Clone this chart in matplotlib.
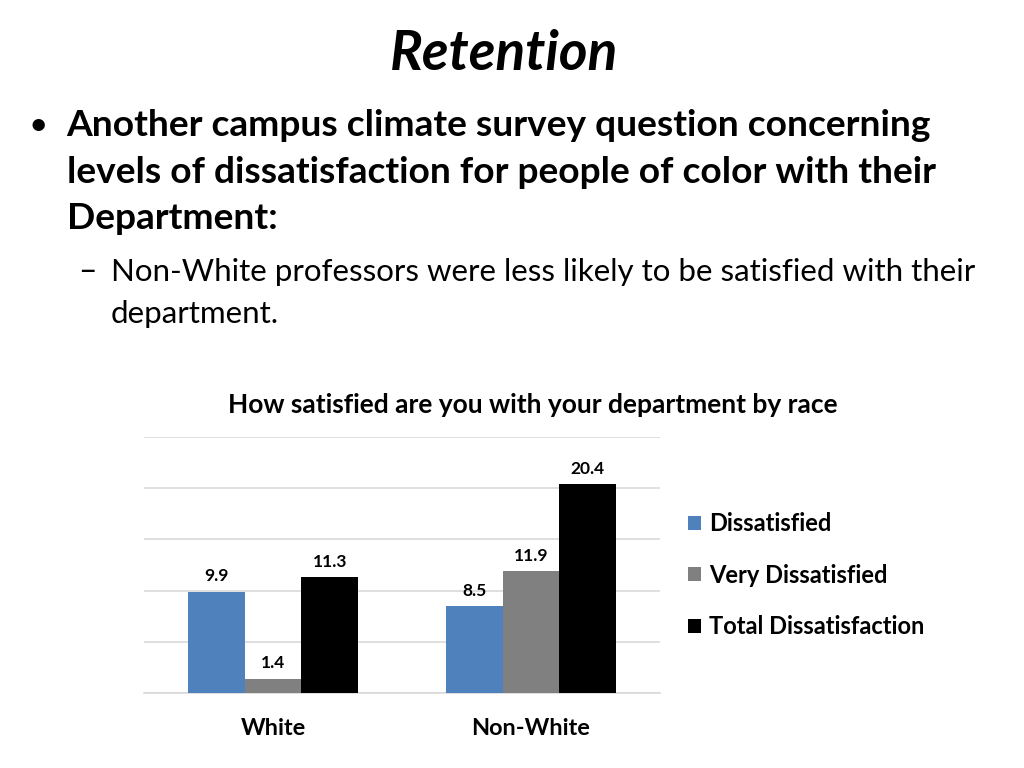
import matplotlib.pyplot as plt
import numpy as np

plt.rcParams['font.family'] = ['Lato', 'DejaVu Sans']

categories = ["White", "Non-White"]
series = ["Dissatisfied", "Very Dissatisfied", "Total Dissatisfaction"]
dissatisfied = [9.9, 8.5]
very_dissatisfied = [1.4, 11.9]
total = [11.3, 20.4]
colors = ["#4F81BD", "#808080", "#000000"]

fig = plt.figure(figsize=(10.24, 7.68), dpi=100)

# slide text
fig.text(0.492, 0.930, "Retention", ha="center", va="center",
         fontsize=39.5, fontweight="bold", fontstyle="italic")
fig.text(0.028, 0.836, "\u2022", ha="left", va="center", fontsize=24)
bullet = ["Another campus climate survey question concerning",
          "levels of dissatisfaction for people of color with their",
          "Department:"]
for i, line in enumerate(bullet):
    fig.text(0.065, 0.836 - i * 0.060, line, ha="left", va="center",
             fontsize=26.7, fontweight="bold")
fig.text(0.076, 0.646, "\u2013", ha="left", va="center", fontsize=23)
sub = ["Non-White professors were less likely to be satisfied with their",
       "department."]
for i, line in enumerate(sub):
    fig.text(0.108, 0.646 - i * 0.055, line, ha="left", va="center",
             fontsize=22.5)

# chart
ax = fig.add_axes([0.1406, 0.0977, 0.504, 0.3333])
x = np.arange(len(categories))
w = 0.22
data = [dissatisfied, very_dissatisfied, total]
for j, (vals, name, c) in enumerate(zip(data, series, colors)):
    pos = x + (j - 1) * w
    bars = ax.bar(pos, vals, width=w, color=c, label=name, zorder=3)
    for b, v in zip(bars, vals):
        ax.text(b.get_x() + b.get_width() / 2, v + 0.7, f"{v:.1f}",
                ha="center", va="bottom", fontsize=12.5, fontweight="bold")

ax.set_xlim(-0.5, 1.5)
ax.set_ylim(0, 25)
ax.set_yticks(np.arange(0, 26, 5))
ax.yaxis.grid(True, color="#D9D9D9", linewidth=1.2, zorder=0)
ax.set_yticklabels([])
ax.tick_params(axis="y", length=0)
ax.tick_params(axis="x", length=0, pad=18)
ax.set_xticks(x)
ax.set_xticklabels(categories, fontsize=16.9, fontweight="bold")
for s in ["top", "right", "left"]:
    ax.spines[s].set_visible(False)
ax.spines["bottom"].set_color("#D9D9D9")
ax.spines["bottom"].set_linewidth(1.2)

fig.text(0.5205, 0.473, "How satisfied are you with your department by race",
         ha="center", va="center", fontsize=19, fontweight="bold")

fig.legend(loc="center left", bbox_to_anchor=(0.672, 0.251), frameon=False,
           prop={"size": 17, "weight": "bold"}, handlelength=0.55,
           handleheight=0.55, handletextpad=0.35, labelspacing=1.2,
           borderpad=0, borderaxespad=0)

fig.savefig("out.png", dpi=100)
